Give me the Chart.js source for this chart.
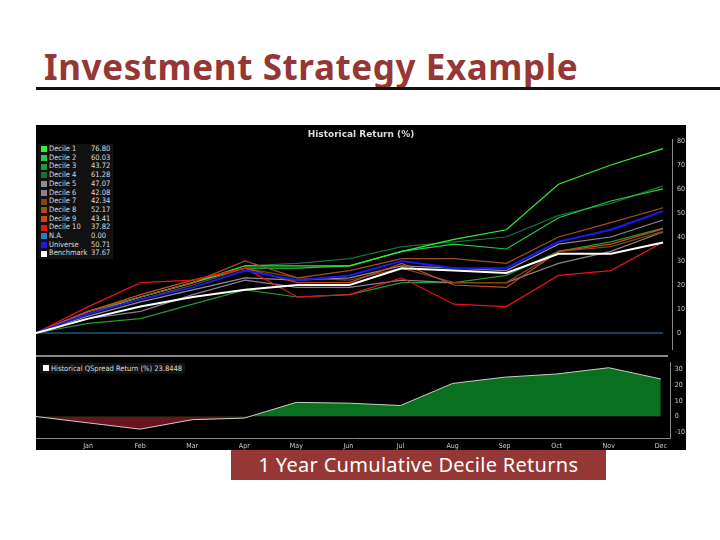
<!DOCTYPE html>
<html>
<head>
<meta charset="utf-8">
<script src="https://cdn.jsdelivr.net/npm/chart.js@4/dist/chart.umd.min.js"></script>
<style>
  body { margin: 0; width: 720px; height: 540px; background: #fff; position: relative; overflow: hidden; font-family: "Noto Sans", sans-serif; }
  #title { position: absolute; left: 44px; top: 43px; font-size: 35px; font-weight: bold; color: #953735; letter-spacing: 0.6px; }
  #rule { position: absolute; left: 36px; right: 0; top: 87px; height: 3px; background: #111; }
  #panel { position: absolute; left: 36px; top: 125px; width: 650px; height: 325px; background: #000; }
  #topBox { position: absolute; left: 36px; top: 125px; width: 650px; height: 230px; }
  #sep { position: absolute; left: 36px; top: 355px; width: 632px; height: 2px; background: #888; }
  #botBox { position: absolute; left: 36px; top: 357px; width: 650px; height: 93px; }
  #legend { position: absolute; left: 38px; top: 144px; background: #111; padding: 1px 3px; font-size: 7.5px; color: #ddd; line-height: 8.7px; font-family: "DejaVu Sans Condensed", "DejaVu Sans", sans-serif; }
  #legend .row { display: flex; align-items: center; }
  #legend .sw { width: 6px; height: 6px; margin-right: 2px; }
  #legend .nm { width: 42px; }
  #qlegend { position: absolute; left: 40px; top: 363px; background: #111; color: #ddd; font-size: 7.5px; padding: 1px 3px; font-family: "DejaVu Sans Condensed", "DejaVu Sans", sans-serif; }
  #qlegend span { display: inline-block; width: 6px; height: 6px; background: #fff; margin-right: 2px; }
  #caption { position: absolute; left: 231px; top: 450px; width: 375px; height: 30px; background: #953735; color: #fff; font-size: 20px; letter-spacing: 0.3px; text-align: center; line-height: 30px; }
</style>
</head>
<body>
<div id="title">Investment Strategy Example</div>
<div id="rule"></div>
<div id="panel"></div>
<div id="topBox"><canvas id="topChart"></canvas></div>
<div id="sep"></div>
<div id="botBox"><canvas id="botChart"></canvas></div>
<div id="legend"></div>
<div id="qlegend"><span></span>Historical QSpread Return (%) 23.8448</div>
<div id="caption">1 Year Cumulative Decile Returns</div>
<script>
// months (first point is the start, Dec 2016)
const months = ['', 'Jan', 'Feb', 'Mar', 'Apr', 'May', 'Jun', 'Jul', 'Aug', 'Sep', 'Oct', 'Nov', 'Dec'];

const seriesNames = ['Decile 1', 'Decile 2', 'Decile 3', 'Decile 4', 'Decile 5', 'Decile 6', 'Decile 7',
  'Decile 8', 'Decile 9', 'Decile 10', 'N.A.', 'Universe', 'Benchmark'];
const seriesColors = ['#33ee33', '#22cc44', '#229933', '#1a6e3a', '#8a8f94', '#8c7f8f', '#7a4a14',
  '#a0501e', '#cc4a1a', '#ee1111', '#2a7fb8', '#1a1aee', '#ffffff'];

const decile1 = [0, 8, 15, 21, 28, 28, 28, 34, 39, 43, 62, 70, 76.80];
const decile2 = [0, 9, 15, 21, 27, 27, 28, 34, 37, 35, 48, 55, 60.03];
const decile3 = [0, 4, 6, 12, 18, 15, 16, 21, 21, 24, 34, 38, 43.72];
const decile4 = [0, 9, 15, 21, 28, 29, 31, 36, 38, 40, 49, 54, 61.28];
const decile5 = [0, 7, 13, 18, 23, 22, 23, 28, 27, 26, 37, 40, 47.07];
const decile6 = [0, 6, 9, 16, 22, 19, 19, 22, 21, 21, 29, 34, 42.08];
const decile7 = [0, 8, 14, 20, 27, 23, 22, 27, 21, 21, 34, 36, 42.34];
const decile8 = [0, 9, 15, 21, 30, 23, 26, 31, 31, 29, 40, 46, 52.17];
const decile9 = [0, 9, 16, 22, 27, 21, 21, 29, 20, 19, 34, 37, 43.41];
const decile10 = [0, 11, 21, 22, 27, 15, 16, 23, 12, 11, 24, 26, 37.82];
const naSeries = [0, 0, 0, 0, 0, 0, 0, 0, 0, 0, 0, 0, 0.00];
const universe = [0, 8, 14, 19, 26, 22, 24, 30, 27, 27, 38, 43, 50.71];
const benchmark = [0, 6, 11, 15, 18, 20, 20, 27, 26, 25, 33, 33, 37.67];

const qspread = [0, -4, -8, -2, -1, 9, 8.5, 7, 21, 25, 27, 31, 23.84];

const allSeries = [decile1, decile2, decile3, decile4, decile5, decile6, decile7,
  decile8, decile9, decile10, naSeries, universe, benchmark];

const topTicks = [0, 10, 20, 30, 40, 50, 60, 70, 80];
const botTicks = [-10, 0, 10, 20, 30];

const xMax = 12.19;
const tickFont = { size: 7, family: 'DejaVu Sans Condensed' };

// legend from the arrays
document.getElementById('legend').innerHTML = seriesNames.map((n, i) =>
  `<div class="row"><div class="sw" style="background:${seriesColors[i]}"></div><div class="nm">${n}</div><div>${allSeries[i][12].toFixed(2)}</div></div>`
).join('');

function toPoints(arr) {
  return arr.map((v, i) => ({ x: i, y: v }));
}

function rightAxis(min, max, ticks) {
  return {
    position: 'right', min: min, max: max,
    afterBuildTicks: (ax) => { ax.ticks = ticks.map((v) => ({ value: v })); },
    grid: { display: false, drawTicks: true, tickLength: 3, color: '#aaa' },
    border: { color: '#888' },
    ticks: { color: '#ccc', font: tickFont, padding: 1 }
  };
}

// draw order: keep benchmark and universe on top
const order = [10, 3, 2, 1, 0, 4, 5, 6, 7, 8, 9, 11, 12];

new Chart(document.getElementById('topChart'), {
  type: 'line',
  data: {
    datasets: order.map((i) => ({
      label: seriesNames[i],
      data: toPoints(allSeries[i]),
      borderColor: seriesColors[i],
      borderWidth: i >= 11 ? 2 : 1.2,
      pointRadius: 0,
      tension: 0,
      order: order.length - order.indexOf(i)
    }))
  },
  options: {
    responsive: true, maintainAspectRatio: false, animation: false,
    layout: { padding: { left: 0, right: 0, top: 0, bottom: 0 } },
    plugins: {
      legend: { display: false },
      tooltip: { enabled: false },
      title: { display: true, text: 'Historical Return (%)', color: '#ddd', font: { size: 9, weight: 'bold', family: 'DejaVu Sans' }, padding: { top: 4, bottom: 0 } }
    },
    scales: {
      x: { type: 'linear', min: 0, max: xMax, display: false },
      y: rightAxis(-7, 80.5, topTicks)
    }
  }
});

new Chart(document.getElementById('botChart'), {
  type: 'line',
  data: {
    datasets: [{
      data: toPoints(qspread),
      borderColor: '#ccc',
      borderWidth: 1,
      pointRadius: 0,
      tension: 0,
      fill: { target: 'origin', above: '#08701e', below: '#6a1420' }
    }]
  },
  options: {
    responsive: true, maintainAspectRatio: false, animation: false,
    layout: { padding: 0 },
    plugins: { legend: { display: false }, tooltip: { enabled: false } },
    scales: {
      x: {
        type: 'linear', min: 0, max: xMax,
        afterBuildTicks: (ax) => { ax.ticks = months.map((m, i) => ({ value: i })); },
        grid: { display: false, tickLength: 3, color: '#aaa' },
        border: { color: '#888' },
        ticks: { color: '#ccc', font: tickFont, padding: 0, maxRotation: 0, autoSkip: false, callback: (v) => months[v] || '' }
      },
      y: rightAxis(-14, 34.5, botTicks)
    }
  }
});
</script>
</body>
</html>
